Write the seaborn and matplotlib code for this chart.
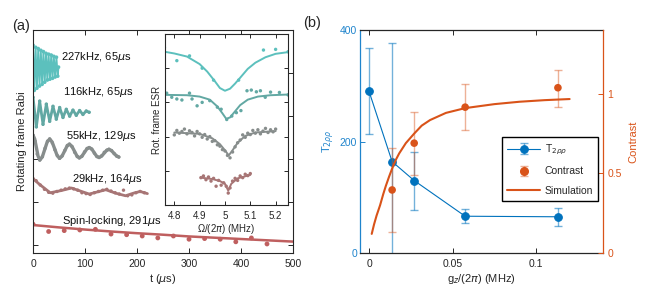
import numpy as np
import pandas as pd
import matplotlib
matplotlib.use("Agg")
import matplotlib.pyplot as plt
from matplotlib.lines import Line2D
import seaborn as sns

sns.set_style("ticks")
plt.rcParams['font.family'] = ['Liberation Sans', 'DejaVu Sans']
plt.rcParams['mathtext.fontset'] = 'dejavusans'

# ---------------- panel (a) main traces ----------------
t_227 = [0, 2.5, 5, 7.5, 10, 12.5, 15, 17.5, 20, 22.5, 25, 27.5, 30, 32.5, 35, 37.5, 40, 42.5, 45, 47.5, 49]
v_227 = [4.65, 3.60, 4.60, 3.65, 4.57, 3.70, 4.53, 3.74, 4.50, 3.79, 4.46, 3.84, 4.44, 3.86, 4.42, 3.88,
         4.39, 3.91, 4.37, 3.93, 4.14]
t_116 = [0, 6.4, 12.8, 19.2, 25.6, 32, 38.4, 44.8, 51.2, 57.6, 64, 70.4, 76.8, 83.2, 89.6, 96, 102.4, 108]
v_116 = [3.44, 2.75, 3.35, 2.81, 3.28, 2.88, 3.23, 2.93, 3.20, 2.97, 3.16, 3.00, 3.14, 3.02, 3.13, 3.04, 3.12, 3.09]
t_55 = [0, 3.25, 9.75, 13, 17.75, 27.25, 32, 36.75, 46.25, 51, 55.75, 65.25, 70, 74.75, 84.25, 89,
        93.75, 103.25, 108, 112.75, 122.25, 127, 131.75, 141.25, 146, 150.75, 160.25, 165]
v_55 = [2.56, 2.47, 2.07, 1.98, 2.05, 2.40, 2.47, 2.40, 2.09, 2.02, 2.07, 2.30, 2.35, 2.30, 2.08, 2.03,
        2.065, 2.235, 2.27, 2.24, 2.07, 2.04, 2.07, 2.20, 2.23, 2.20, 2.08, 2.05]
t_55d = [0, 4, 8, 13, 18, 23, 28, 32, 37, 42, 47, 51, 56, 61, 66, 70, 75, 80, 85, 89, 94, 99, 104, 108,
         113, 118, 123, 127, 132, 137, 142, 146, 151, 156, 161, 165]
v_55d = [2.56, 2.42, 2.12, 1.98, 2.06, 2.25, 2.42, 2.47, 2.38, 2.22, 2.08, 2.02, 2.08, 2.20, 2.32, 2.35,
         2.29, 2.16, 2.06, 2.03, 2.07, 2.17, 2.25, 2.27, 2.23, 2.14, 2.06, 2.04, 2.08, 2.16, 2.21, 2.23,
         2.20, 2.13, 2.07, 2.05]
t_29 = [0, 12, 33, 54, 74, 91, 108, 124, 140, 159, 178, 193, 206, 220]
v_29 = [1.55, 1.42, 1.22, 1.27, 1.33, 1.26, 1.19, 1.24, 1.29, 1.21, 1.15, 1.21, 1.25, 1.20]
t_29d = [0, 6, 14, 22, 30, 38, 46, 54, 62, 70, 78, 86, 94, 102, 110, 118, 126, 134, 142, 150, 158, 166,
         174, 182, 190, 198, 206, 214]
v_29d = [1.55, 1.50, 1.40, 1.30, 1.23, 1.21, 1.25, 1.28, 1.31, 1.33, 1.31, 1.28, 1.22, 1.20, 1.18, 1.22,
         1.25, 1.28, 1.30, 1.26, 1.22, 1.19, 1.28, 1.15, 1.17, 1.22, 1.25, 1.22]
t_sl = [0, 30, 60, 90, 120, 150, 180, 210, 240, 270, 300, 330, 360, 390, 420, 450]
v_sl = [0.49, 0.32, 0.34, 0.355, 0.37, 0.26, 0.245, 0.215, 0.17, 0.215, 0.14, 0.155, 0.14, 0.08, 0.17, 0.03]
t_slf = [0, 50, 100, 150, 200, 250, 300, 350, 400, 450, 500]
v_slf = [0.47, 0.415, 0.365, 0.32, 0.28, 0.245, 0.205, 0.175, 0.145, 0.115, 0.085]

trace_labels = ["227kHz, 65$\\mu$s", "116kHz, 65$\\mu$s", "55kHz, 129$\\mu$s",
                "29kHz, 164$\\mu$s", "Spin-locking, 291$\\mu$s"]
label_t = [54, 58, 63, 75, 56]
label_v = [4.37, 3.56, 2.535, 1.54, 0.571]
col_227, col_116, col_55, col_29, col_sl = "#5cc0bd", "#62a8a3", "#878d8c", "#a77575", "#bf5f5f"

# ---------------- inset (ESR) ----------------
w1_x = [4.762, 4.80, 4.85, 4.90, 4.93, 4.96, 4.98, 5.00, 5.02, 5.04, 5.06, 5.09, 5.12, 5.16, 5.20, 5.25]
w1_y = [4.48, 4.43, 4.34, 4.12, 3.90, 3.62, 3.42, 3.34, 3.40, 3.55, 3.72, 3.98, 4.16, 4.32, 4.42, 4.47]
w1_dx = [4.761, 4.81, 4.86, 4.91, 4.955, 5.054, 5.152, 5.20, 5.249]
w1_dy = [4.60, 4.22, 4.36, 4.00, 3.65, 3.65, 4.53, 4.55, 4.48]
w2_x = [4.762, 4.85, 4.90, 4.94, 4.97, 4.99, 5.005, 5.02, 5.04, 5.06, 5.09, 5.13, 5.18, 5.25]
w2_y = [3.22, 3.21, 3.17, 3.08, 2.88, 2.68, 2.52, 2.56, 2.74, 2.92, 3.08, 3.17, 3.21, 3.23]
w2_dx = [4.77, 4.79, 4.81, 4.83, 4.86, 4.87, 4.89, 4.91, 4.94, 4.97, 4.985, 5.007, 5.027, 5.045, 5.063,
         5.087, 5.104, 5.124, 5.14, 5.159, 5.18, 5.215, 5.249]
w2_dy = [3.27, 3.15, 3.10, 3.07, 3.27, 3.10, 2.90, 3.00, 3.05, 2.86, 2.80, 2.50, 2.60, 2.70, 2.76,
         3.34, 3.36, 3.31, 3.34, 3.15, 3.30, 3.29, 3.22]
w3_x = [4.80, 4.90, 4.95, 4.98, 5.00, 5.015, 5.03, 5.05, 5.08, 5.12, 5.20]
w3_y = [2.12, 2.08, 1.95, 1.78, 1.60, 1.45, 1.60, 1.82, 2.02, 2.12, 2.16]
w3_dx = [4.80, 4.81, 4.82, 4.83, 4.84, 4.85, 4.86, 4.87, 4.88, 4.89, 4.90, 4.91, 4.92, 4.93, 4.94, 4.95,
         4.96, 4.97, 4.98, 4.99, 5.00, 5.01, 5.02, 5.03, 5.04, 5.05, 5.06, 5.07, 5.08, 5.09, 5.10, 5.11,
         5.12, 5.13, 5.14, 5.15, 5.16, 5.17, 5.18, 5.19, 5.20]
w3_dy = [2.05, 2.18, 2.10, 2.15, 2.22, 2.08, 2.17, 2.12, 2.02, 2.15, 2.08, 1.98, 2.06, 1.93, 2.00, 1.86,
         1.88, 1.76, 1.72, 1.62, 1.58, 1.45, 1.38, 1.55, 1.70, 1.82, 1.90, 2.05, 1.98, 2.10, 2.06, 2.18,
         2.10, 2.20, 2.08, 2.16, 2.24, 2.12, 2.20, 2.14, 2.22]
w4_x = [4.905, 4.95, 4.98, 5.00, 5.013, 5.025, 5.05, 5.10]
w4_y = [0.80, 0.76, 0.70, 0.62, 0.42, 0.62, 0.78, 0.88]
w4_dx = [4.905, 4.915, 4.925, 4.935, 4.945, 4.955, 4.965, 4.975, 4.985, 4.995, 5.005, 5.013, 5.02, 5.03,
         5.04, 5.05, 5.06, 5.07, 5.08, 5.09, 5.10]
w4_dy = [0.80, 0.85, 0.74, 0.82, 0.70, 0.78, 0.55, 0.72, 0.58, 0.65, 0.55, 0.35, 0.50, 0.70,
         0.78, 0.72, 0.85, 0.80, 0.90, 0.86, 0.92]
inset_xticks = [4.8, 4.9, 5.0, 5.1, 5.2]
inset_xticklabels = ["4.8", "4.9", "5", "5.1", "5.2"]

# ---------------- panel (b) ----------------
g_T = [0, 0.0138, 0.027, 0.0575, 0.113]
T2 = [290, 164, 130, 66, 65]
T2_lo = [77, 209, 53, 12, 17]
T2_hi = [77, 212, 52, 13, 16]
g_C = [0.0138, 0.027, 0.0575, 0.113]
C = [0.396, 0.69, 0.916, 1.038]
C_lo = [0.266, 0.20, 0.146, 0.118]
C_hi = [0.264, 0.195, 0.144, 0.112]
g_sim = [0.0016, 0.003, 0.0045, 0.0066, 0.0085, 0.010, 0.012, 0.0138, 0.016, 0.018, 0.022, 0.027, 0.0315,
         0.0365, 0.046, 0.0575, 0.075, 0.09, 0.105, 0.12]
C_sim = [0.12, 0.18, 0.235, 0.30, 0.37, 0.42, 0.48, 0.53, 0.585, 0.625, 0.69, 0.75, 0.80, 0.835, 0.88,
         0.91, 0.935, 0.95, 0.96, 0.967]

BLUE = "#0072BD"
BLUE_AX = "#1f84cc"
ORANGE = "#D95319"
DARK = "#262626"

fig = plt.figure(figsize=(6.54, 2.98), dpi=100)
axa = fig.add_axes([0.0505, 0.151, 0.3975, 0.748])
axi = fig.add_axes([0.2518, 0.312, 0.189, 0.574])
axb = fig.add_axes([0.5505, 0.151, 0.3716, 0.748])
ax2 = axb.twinx()

# ---- (a) main ----
for t, v, c, lw in [(t_227, v_227, col_227, 1.3), (t_116, v_116, col_116, 2.0),
                    (t_55, v_55, col_55, 2.4), (t_29, v_29, col_29, 2.0), (t_slf, v_slf, col_sl, 1.8)]:
    sns.lineplot(x=t, y=v, ax=axa, color=c, lw=lw, estimator=None, sort=False)
for t, v, c, s in [(t_227, v_227, col_227, 7), (t_116, v_116, col_116, 6), (t_55d, v_55d, col_55, 6),
                   (t_29d, v_29d, col_29, 6), (t_sl, v_sl, col_sl, 12)]:
    sns.scatterplot(x=t, y=v, ax=axa, color=c, s=s, edgecolor="none", legend=False)
for lab, tx, vy in zip(trace_labels, label_t, label_v):
    axa.text(tx, vy, lab, ha="left", va="center", fontsize=8, color="#111111")
axa.set_xlim(0, 500)
axa.set_ylim(-0.18, 5.0)
axa.set_xticks([0, 100, 200, 300, 400, 500])
axa.set_yticks([0, 1, 2, 3, 4, 5])
axa.tick_params(direction="in", top=True, right=True, labelleft=False, length=3.5, width=0.7,
                labelsize=7.5, pad=4.5, colors=DARK)
axa.set_xlabel("t ($\\mu$s)", fontsize=8, labelpad=2)
axa.set_ylabel("Rotating frame Rabi", fontsize=8, labelpad=4)
for sp in axa.spines.values():
    sp.set_linewidth(0.8)
    sp.set_color(DARK)

# ---- inset ----
axi.set_facecolor("white")
for x, y, c in [(w1_x, w1_y, col_227), (w2_x, w2_y, col_116), (w3_x, w3_y, col_55), (w4_x, w4_y, col_29)]:
    sns.lineplot(x=x, y=y, ax=axi, color=c, lw=1.4, estimator=None, sort=False)
for x, y, c in [(w1_dx, w1_dy, col_227), (w2_dx, w2_dy, col_116), (w3_dx, w3_dy, col_55), (w4_dx, w4_dy, col_29)]:
    sns.scatterplot(x=x, y=y, ax=axi, color=c, s=6, edgecolor="none", legend=False)
axi.set_xlim(4.762, 5.25)
axi.set_ylim(0, 5)
axi.set_xticks(inset_xticks)
axi.set_xticklabels(inset_xticklabels)
axi.set_yticks([0, 1, 2, 3, 4, 5])
axi.tick_params(direction="in", top=True, right=True, labelleft=False, length=3, width=0.7,
                labelsize=7, pad=4, colors=DARK)
axi.set_xlabel("\u03a9/(2$\\pi$) (MHz)", fontsize=7, labelpad=1)
axi.set_ylabel("Rot. frame ESR", fontsize=7, labelpad=2)
for sp in axi.spines.values():
    sp.set_linewidth(0.8)
    sp.set_color(DARK)

# ---- (b) ----
eb1 = axb.errorbar(g_T, T2, yerr=[T2_lo, T2_hi], fmt="none", ecolor=BLUE, alpha=0.55,
                   elinewidth=1.0, capsize=3, capthick=1.0)
sns.lineplot(x=g_T, y=T2, ax=axb, color=BLUE, lw=0.8, marker="o", markersize=5.5,
             markeredgecolor=BLUE, estimator=None, sort=False)
line_T = axb.lines[-1]
axb.set_xlim(-0.0054, 0.140)
axb.set_ylim(0, 400)
axb.set_xticks([0, 0.05, 0.1])
axb.set_xticklabels(["0", "0.05", "0.1"])
axb.set_yticks([0, 200, 400])
axb.tick_params(axis="x", direction="in", top=True, length=3.5, width=0.7, labelsize=7.5, pad=4.5, colors=DARK)
axb.tick_params(axis="y", direction="in", length=3.5, width=0.7, labelsize=7.5, colors=BLUE_AX, pad=2)
axb.set_xlabel("g$_z$/(2$\\pi$) (MHz)", fontsize=8, labelpad=2)
axb.set_ylabel("T$_{2\\rho\\rho}$", fontsize=8, color=BLUE_AX, labelpad=2)
axb.spines["left"].set_color(BLUE_AX)
axb.spines["right"].set_visible(False)
for k in ["top", "bottom"]:
    axb.spines[k].set_color(DARK)
for sp in axb.spines.values():
    sp.set_linewidth(0.9)

eb2 = ax2.errorbar(g_C, C, yerr=[C_lo, C_hi], fmt="none", ecolor=ORANGE, alpha=0.45,
                   elinewidth=1.0, capsize=3, capthick=1.0)
sns.scatterplot(x=g_C, y=C, ax=ax2, color=ORANGE, s=30, edgecolor="none", legend=False, zorder=3)
sns.lineplot(x=g_sim, y=C_sim, ax=ax2, color=ORANGE, lw=1.5, estimator=None, sort=False)
line_sim = ax2.lines[-1]
ax2.set_ylim(0, 1.4)
ax2.set_yticks([0, 0.5, 1])
ax2.set_yticklabels(["0", "0.5", "1"])
ax2.tick_params(axis="y", direction="in", length=3.5, width=0.7, labelsize=7.5, colors=ORANGE, pad=3)
ax2.set_ylabel("Contrast", fontsize=8, color=ORANGE, labelpad=5)
ax2.spines["right"].set_color(ORANGE)
ax2.spines["right"].set_linewidth(0.9)
for k in ["left", "top", "bottom"]:
    ax2.spines[k].set_visible(False)

prox_C = Line2D([], [], color=ORANGE, marker="o", linestyle="none", markersize=5.5, markeredgecolor=ORANGE)
leg = ax2.legend([(eb1, line_T), (eb2, prox_C), line_sim], ["T$_{2\\rho\\rho}$", "Contrast", "Simulation"],
                 loc="lower left", bbox_to_anchor=(0.584, 0.233), frameon=True, fancybox=False,
                 edgecolor="black", fontsize=7.5, handlelength=3.2, handletextpad=0.4,
                 labelspacing=0.9, borderpad=0.5, borderaxespad=0)
leg.get_frame().set_linewidth(1.0)
leg.get_frame().set_alpha(1)

fig.text(0.018, 0.913, "(a)", fontsize=10.5, ha="left", va="center")
fig.text(0.463, 0.923, "(b)", fontsize=10.5, ha="left", va="center")

fig.savefig("out.png", dpi=100)
